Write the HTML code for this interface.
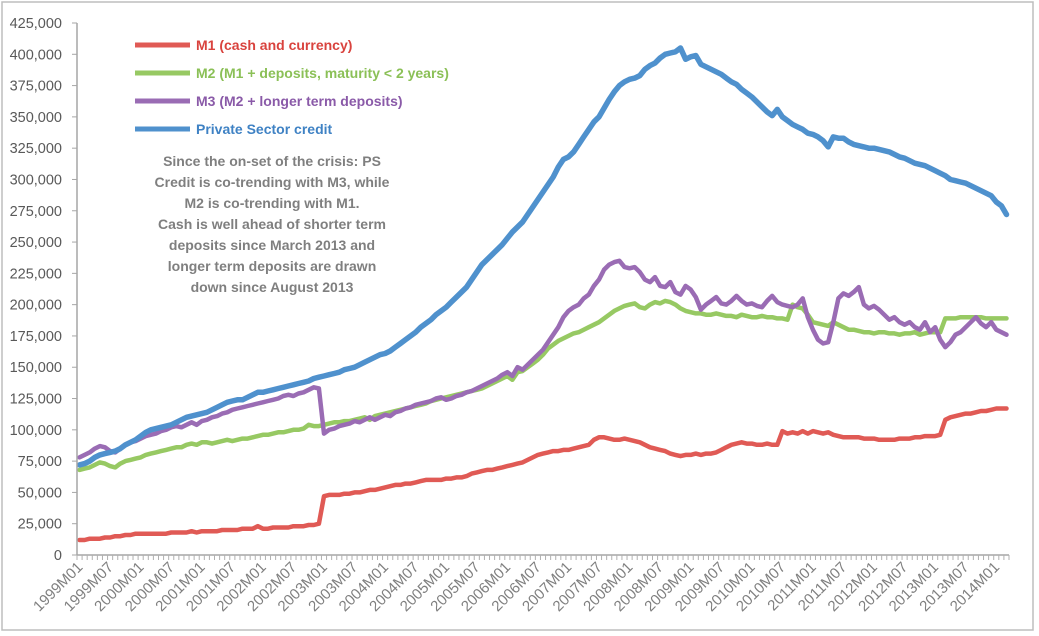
<!DOCTYPE html>
<html><head><meta charset="utf-8"><style>
body{margin:0;background:#fff;}
svg{display:block;font-family:"Liberation Sans",Arial,sans-serif;}
</style></head><body>
<svg id="chart" width="1039" height="636">
<rect x="2" y="2" width="1031" height="628" fill="#fff" stroke="#bdbdbd" stroke-width="1.5"/>
<g id="grid"></g><g id="series"></g><g id="axes"></g>
<g font-weight="bold" font-size="14">
 <g><line x1="135" y1="45" x2="190" y2="45" stroke="#e05a55" stroke-width="5"/><text x="196" y="50" fill="#d9433e">M1 (cash and currency)</text></g>
 <g><line x1="135" y1="73" x2="190" y2="73" stroke="#97c963" stroke-width="5"/><text x="196" y="78" fill="#8bc057">M2 (M1 + deposits, maturity &lt; 2 years)</text></g>
 <g><line x1="135" y1="101" x2="190" y2="101" stroke="#9a6cb4" stroke-width="5"/><text x="196" y="106" fill="#8a5aa8">M3 (M2 + longer term deposits)</text></g>
 <g><line x1="135" y1="129" x2="190" y2="129" stroke="#4f91cd" stroke-width="5"/><text x="196" y="134" fill="#3f82c4">Private Sector credit</text></g>
</g>
<g font-weight="bold" font-size="14" fill="#7f7f7f" text-anchor="middle">
 <text x="272" y="166">Since the on-set of the crisis: PS</text>
 <text x="272" y="187">Credit is co-trending with M3, while</text>
 <text x="272" y="208">M2 is co-trending with M1.</text>
 <text x="272" y="229">Cash is well ahead of shorter term</text>
 <text x="272" y="250">deposits since March 2013 and</text>
 <text x="272" y="271">longer term deposits are drawn</text>
 <text x="272" y="292">down since August 2013</text>
</g>
</svg>
<script>
const yTicks=[0,25000,50000,75000,100000,125000,150000,175000,200000,225000,250000,275000,300000,325000,350000,375000,400000,425000];
const credit=[72,73,75,78,80,81,82,83,85,88,90,92,
95,98,100,101,102,103,104,106,108,110,111,112,
113,114,116,118,120,122,123,124,124,126,128,130,
130,131,132,133,134,135,136,137,138,139,141,142,
143,144,145,146,148,149,150,152,154,156,158,160,
161,163,166,169,172,175,178,182,185,188,192,195,
198,202,206,210,214,220,226,232,236,240,244,248,
253,258,262,266,272,278,284,290,296,302,310,316,
318,322,328,334,340,346,350,357,364,370,375,378,
380,381,383,388,391,393,397,400,401,402,405,396,
398,399,392,390,388,386,384,381,378,376,372,369,
366,362,358,354,351,356,350,347,344,342,340,337,
336,334,331,326,334,333,333,330,328,327,326,325,
325,324,323,322,320,318,317,315,313,312,311,309,
307,305,303,300,299,298,297,295,293,291,289,287,
282,279,272];
const m2=[68,69,70,72,74,73,71,70,73,75,76,77,
78,80,81,82,83,84,85,86,86,88,89,88,
90,90,89,90,91,92,91,92,93,93,94,95,
96,96,97,98,98,99,100,100,101,104,103,103,
104,105,106,106,107,107,108,109,110,108,111,112,
113,114,115,116,117,118,119,120,121,123,124,125,
126,127,128,129,130,131,132,133,135,137,139,141,
143,140,146,147,150,153,156,160,165,168,171,173,
175,177,178,180,182,184,186,189,192,195,197,199,
200,201,198,197,200,202,201,203,202,200,197,195,
194,193,193,192,192,193,192,191,191,190,192,191,
190,190,191,190,190,189,189,188,200,198,197,192,
186,185,184,183,186,184,182,180,180,179,178,178,
177,178,178,177,177,176,177,177,178,176,177,178,
178,178,189,189,189,190,190,190,190,190,189,189,
189,189,189];
const m3=[78,80,82,85,87,86,83,82,85,88,90,91,
93,95,96,97,99,100,102,103,102,104,106,104,
107,108,110,111,113,114,116,117,118,119,120,121,
122,123,124,125,127,128,127,129,130,132,134,133,
97,100,101,103,104,105,107,106,108,110,108,110,
112,111,114,115,117,118,120,121,122,123,125,126,
124,125,127,128,130,131,133,135,137,139,141,144,
146,143,150,148,152,156,160,164,170,176,182,190,
195,198,200,205,208,215,220,228,232,234,235,230,
229,230,226,220,218,222,215,214,218,210,208,215,
212,206,196,200,203,206,201,200,203,207,203,200,
201,199,198,203,207,202,200,199,198,200,205,190,
180,172,169,170,186,205,209,207,210,214,200,197,
199,196,192,188,190,186,184,186,182,180,186,178,
182,172,166,170,176,178,182,186,190,185,182,186,
180,178,176];
const m1=[12,12,13,13,13,14,14,15,15,16,16,17,
17,17,17,17,17,17,18,18,18,18,19,18,
19,19,19,19,20,20,20,20,21,21,21,23,
21,21,22,22,22,22,23,23,23,24,24,25,
47,48,48,48,49,49,50,50,51,52,52,53,
54,55,56,56,57,57,58,59,60,60,60,60,
61,61,62,62,63,65,66,67,68,68,69,70,
71,72,73,74,76,78,80,81,82,83,83,84,
84,85,86,87,88,92,94,94,93,92,92,93,
92,91,90,88,86,85,84,83,81,80,79,80,
80,81,80,81,81,82,84,86,88,89,90,89,
89,88,88,89,88,88,99,97,98,97,99,97,
99,98,97,98,96,95,94,94,94,94,93,93,
93,92,92,92,92,93,93,93,94,94,95,95,
95,96,108,110,111,112,113,113,114,115,115,116,
117,117,117];
const startYear=1999;
const N=credit.length;
const categories=[];
for(let i=0;i<N;i++){const y=startYear+Math.floor(i/12),m=i%12+1;categories.push(y+'M'+(m<10?'0':'')+m);}
const X0=77,X1=1009,Y0=555,Y1=23,YMAX=425000;
const bw=(X1-X0)/N;
const xs=i=>X0+bw*(i+0.5);
const ys=v=>Y0-(v/YMAX)*(Y0-Y1);
const NS='http://www.w3.org/2000/svg';
function mk(tag,attrs,parent){const e=document.createElementNS(NS,tag);for(const k in attrs)e.setAttribute(k,attrs[k]);parent.appendChild(e);return e;}
const axes=document.getElementById('axes'),series=document.getElementById('series');
const yl=mk('line',{x1:X0,y1:Y1,x2:X0,y2:Y0,stroke:'#a6a6a6','stroke-width':1.5},axes);


yTicks.forEach(t=>{
 const tx=mk('text',{x:62,y:ys(t)+5,'text-anchor':'end','font-size':14.5,fill:'#595959'},axes);
 tx.textContent=t.toLocaleString('en-US');
 
 
 const tk=mk('line',{x1:X0-5,y1:ys(t),x2:X0,y2:ys(t),stroke:'#a6a6a6'},axes);
 
 
});
const xl=mk('line',{x1:X0,y1:Y0,x2:X1,y2:Y0,stroke:'#a6a6a6','stroke-width':1.5},axes);


for(let i=0;i<=N;i++){
 const tk=mk('line',{x1:X0+bw*i,y1:Y0,x2:X0+bw*i,y2:Y0+5,stroke:'#b0b0b0','stroke-width':1},axes);
 
 
}
categories.forEach((c,i)=>{
 if(i%6!==0)return;
 const x=xs(i)+4,y=Y0+13;
 const tx=mk('text',{x:x,y:y,'text-anchor':'end','font-size':15,fill:'#7f7f7f',transform:'rotate(-45 '+x+' '+y+')'},axes);
 tx.textContent=c;
 
 
});
function draw(arr,color,name){
 const d=arr.map((v,i)=>(i?'L':'M')+xs(i).toFixed(1)+' '+ys(v*1000).toFixed(1)).join(' ');
 const p=mk('path',{d:d,fill:'none',stroke:color,'stroke-width':name==='line-ps-credit'?5.5:4.5,'stroke-linejoin':'round','stroke-linecap':'round'},series);
 
 
}
draw(m1,'#e05a55','line-m1');
draw(m2,'#97c963','line-m2');
draw(m3,'#9a6cb4','line-m3');
draw(credit,'#4f91cd','line-ps-credit');
</script>
</body></html>
